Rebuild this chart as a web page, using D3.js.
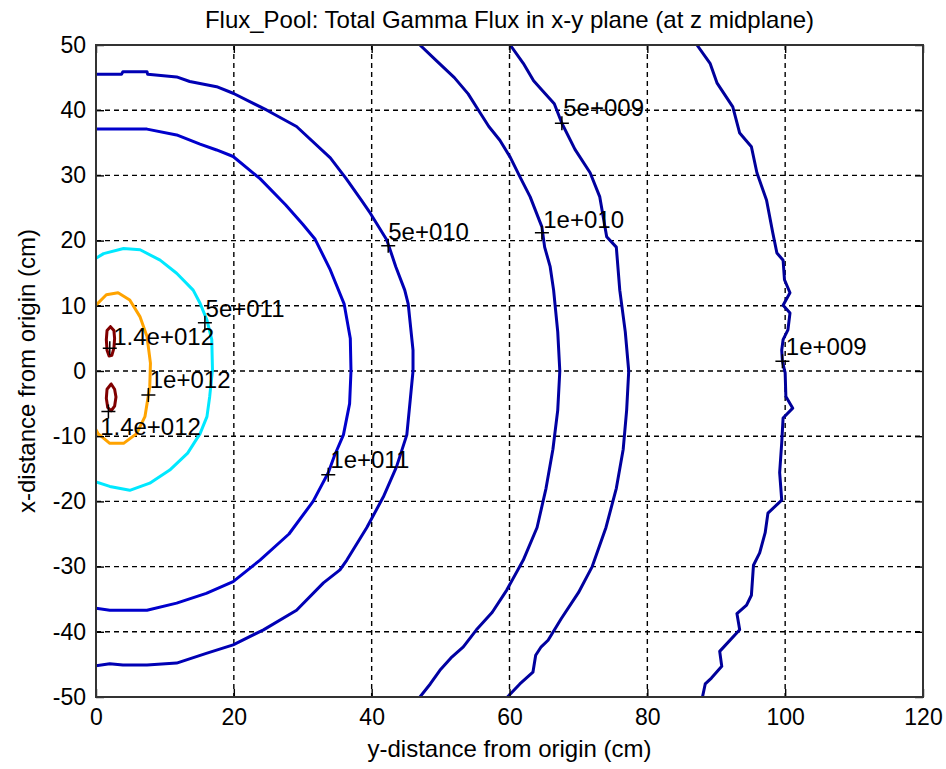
<!DOCTYPE html>
<html><head><meta charset="utf-8">
<script src="https://cdn.jsdelivr.net/npm/d3@7"></script>
<style>body{margin:0;background:#fff;} svg{display:block;}</style>
</head><body>
<svg id="c" width="946" height="769"></svg>
<script>
// ---- data ----
const xTicks = [0, 20, 40, 60, 80, 100, 120];
const yTicks = [-50, -40, -30, -20, -10, 0, 10, 20, 30, 40, 50];
const titleText = "Flux_Pool: Total Gamma Flux in x-y plane (at z midplane)";
const xLabelText = "y-distance from origin (cm)";
const yLabelText = "x-distance from origin (cm)";

// contour lines, [y-distance, x-distance]
const c14a = [[2.1,6.8],[2.6,6.2],[2.7,5],[2.6,3.5],[2.3,2.4],[1.9,2.3],[1.6,3.2],[1.5,4.8],[1.6,6.2],[2.1,6.8]];
const c14b = [[2.2,-2.0],[2.7,-2.8],[2.9,-4.0],[2.7,-5.4],[2.2,-6.1],[1.7,-5.6],[1.5,-4.2],[1.6,-2.8],[2.2,-2.0]];
const c1e12 = [[0,10.1],[1.5,11.7],[3.2,12],[4.9,10.9],[6.4,8.3],[7.4,5.3],[7.9,1.2],[7.8,-2.4],[7.1,-7],[5.9,-9.6],[4,-11.1],[2,-11.1],[0.3,-9.6],[0,-9]];
const c5e11 = [[0,17.3],[1.1,18],[4,18.8],[6.4,18.6],[9.3,17],[11.7,15],[14.1,12.4],[15.1,10.4],[16.1,7.8],[16.8,4.8],[16.9,0.2],[16.5,-3.9],[16.1,-7],[15.1,-9.6],[13.3,-12.6],[10.7,-15.2],[7.8,-17.2],[4.9,-18.3],[2,-17.7],[0,-17]];
const c1e11 = [[0,37.1],[4,37.1],[7.4,37.1],[11.7,36.2],[15.1,34.8],[17.5,33.9],[19.9,32.9],[23.8,29.5],[27.5,25.5],[30,22.5],[31.8,20.2],[34,15.5],[36,10.3],[36.9,5],[37,0],[36.8,-5],[35.9,-9.8],[34.6,-13],[33.7,-15.6],[31.5,-20],[28,-25],[23.8,-29],[19.9,-32.3],[16,-34.1],[11.7,-35.6],[7.4,-36.7],[2,-36.7],[0,-36.4]];
const c5e10 = [[0,45.5],[3.7,45.5],[3.9,45.9],[7.4,45.9],[7.5,45.5],[11.7,45.1],[13.6,44.4],[17.5,43.6],[19.9,42.6],[24.8,40],[29.1,37.5],[34,32.7],[36.3,29.5],[38.5,26.2],[39.8,24.2],[42.2,20.1],[43.5,16],[44.8,12.4],[45.3,10.3],[46,3.2],[46,0],[45.6,-4.4],[45.1,-9.8],[43.6,-14.7],[41.7,-19.3],[39.3,-24],[36.4,-29],[35.4,-30.5],[33,-32.5],[29.1,-36.7],[24.3,-39.7],[19.9,-42],[16,-43.3],[11.7,-44.8],[7.4,-45.1],[3.9,-45.1],[2,-44.9],[0,-45.2]];
const c1e10 = [[47,50],[49.5,47.5],[52,45],[54,42.5],[55.5,40],[57,37.5],[58.6,35.4],[60.1,32.8],[61.5,29.8],[63,26.7],[64.7,22.1],[65.1,19],[65.9,16],[66.4,12.4],[67,6],[67.3,0],[67,-6],[66.3,-12],[65.3,-18],[64,-24],[62,-29],[59.6,-33.6],[57.5,-37],[55.2,-39.7],[53.3,-42.3],[51.5,-44],[49.9,-45.9],[48.5,-48],[47,-50]];
const c5e9 = [[60.1,50],[62,47.2],[63.5,44.5],[64.6,43.2],[66.5,41],[67.6,38],[69.5,34],[71.7,30.4],[73.1,26.7],[74.1,20.6],[75.5,19],[76,12.4],[76.8,6],[77.3,0],[77,-6],[76.5,-12],[75.5,-18],[74,-24],[72,-30],[70,-34],[67.5,-38],[65.6,-41.3],[64.6,-42.3],[63.8,-43.6],[63.4,-46.2],[61.5,-48],[59.7,-50]];
const c1e9 = [[87.2,50],[89.1,47.2],[90.1,44.2],[92.4,40.5],[93.4,36.5],[95.1,34.4],[95.9,30.4],[97.3,26.2],[98.2,21.2],[98.8,18.1],[99.7,17],[99.9,14],[100.7,12],[99.7,10.1],[100.7,8.9],[100.4,6.3],[99.7,4.8],[99.5,3.2],[99.6,1.5],[100,-0.3],[100.1,-3.9],[101.1,-5.7],[99.7,-7.2],[99.5,-11],[99.2,-15.6],[99.5,-19.8],[97.5,-21.8],[97.1,-24.8],[96.3,-27.9],[95.4,-29.8],[95.1,-34.4],[94.4,-35.9],[93,-37.2],[93.4,-39.7],[90.5,-43],[90.8,-45.3],[89.3,-47.1],[88.4,-48],[88,-50]];

// contour label: text, marker position, text position (data coords)
const labelTexts   = ["1.4e+012","1.4e+012","1e+012","5e+011","1e+011","5e+010","1e+010","5e+009","1e+009"];
const markerPts    = [[2,3.5],[1.8,-6.2],[7.6,-3.7],[15.8,7.4],[33.7,-15.9],[42.4,19.2],[64.7,21.2],[67.6,38],[99.6,1.5]];
const labelPts     = [[2.5,4.0],[0.6,-9.8],[7.8,-2.6],[15.9,8.3],[34.0,-14.9],[42.4,20.1],[64.9,21.9],[67.8,39.1],[100.1,2.45]];

// ---- styles ----
const lines = [
  {d: c1e9,  color: "#00009a"},
  {d: c5e9,  color: "#00009e"},
  {d: c1e10, color: "#0000a2"},
  {d: c5e10, color: "#0000b4"},
  {d: c1e11, color: "#0000cc"},
  {d: c5e11, color: "#00e8ff"},
  {d: c1e12, color: "#ffa300"},
  {d: c14a,  color: "#800000"},
  {d: c14b,  color: "#800000"}
];

const W = 946, H = 769;
const m = {l: 96, r: 23, t: 45, b: 72};
const FONT = "'Liberation Sans', Arial, sans-serif";
const svg = d3.select("#c");
const x = d3.scaleLinear().domain([0, 120]).range([m.l, W - m.r]);
const y = d3.scaleLinear().domain([-50, 50]).range([H - m.b, m.t]);

svg.append("rect").attr("width", W).attr("height", H).attr("fill", "#fff");

svg.append("defs").append("clipPath").attr("id", "clip")
  .append("rect").attr("x", m.l).attr("y", m.t).attr("width", W - m.l - m.r).attr("height", H - m.t - m.b);

// grid
const g = svg.append("g");
g.selectAll("line.gx").data(xTicks.slice(1, -1)).join("line")
  .attr("x1", d => x(d)).attr("x2", d => x(d)).attr("y1", m.t).attr("y2", H - m.b)
  .attr("stroke", "#000").attr("stroke-width", 1.4).attr("stroke-dasharray", "5,4");
g.selectAll("line.gy").data(yTicks.slice(1, -1)).join("line")
  .attr("y1", d => y(d)).attr("y2", d => y(d)).attr("x1", m.l).attr("x2", W - m.r)
  .attr("stroke", "#000").attr("stroke-width", 1.4).attr("stroke-dasharray", "5,4");

// contours
const lineGen = d3.line().x(d => x(d[0])).y(d => y(d[1]));
svg.append("g").attr("clip-path", "url(#clip)")
  .selectAll("path").data(lines).join("path")
  .attr("d", d => lineGen(d.d)).attr("fill", "none")
  .attr("stroke", d => d.color).attr("stroke-width", 3)
  .attr("stroke-linejoin", "round").attr("stroke-linecap", "round");

// axes (ticks inside, all four sides)
const TL = 8;
const fmt = d => String(d);
const axB = d3.axisBottom(x).tickValues(xTicks).tickSize(-TL).tickPadding(12).tickFormat(fmt);
const axT = d3.axisTop(x).tickValues(xTicks).tickSize(-TL).tickFormat("");
const axL = d3.axisLeft(y).tickValues(yTicks).tickSize(-TL).tickPadding(10).tickFormat(fmt);
const axR = d3.axisRight(y).tickValues(yTicks).tickSize(-TL).tickFormat("");
function styleAx(sel) {
  sel.select(".domain").remove();
  sel.selectAll(".tick line").attr("stroke", "#000").attr("stroke-width", 1.4);
  sel.selectAll(".tick text").attr("fill", "#000").style("font-family", FONT).style("font-size", "23px");
}
svg.append("g").attr("transform", `translate(0,${H - m.b})`).call(axB).call(styleAx);
svg.append("g").attr("transform", `translate(0,${m.t})`).call(axT).call(styleAx);
svg.append("g").attr("transform", `translate(${m.l},0)`).call(axL).call(styleAx);
svg.append("g").attr("transform", `translate(${W - m.r},0)`).call(axR).call(styleAx);

// box
svg.append("rect").attr("x", m.l).attr("y", m.t).attr("width", W - m.l - m.r).attr("height", H - m.t - m.b)
  .attr("fill", "none").attr("stroke", "#333").attr("stroke-width", 2);

// markers and labels
const mk = svg.append("g");
const MS = 7;
markerPts.forEach(p => {
  const cx = x(p[0]), cy = y(p[1]);
  mk.append("path").attr("d", `M${cx - MS},${cy}H${cx + MS}M${cx},${cy - MS}V${cy + MS}`)
    .attr("stroke", "#000").attr("stroke-width", 1.5);
});
mk.selectAll("text").data(labelTexts).join("text")
  .attr("x", (d, i) => x(labelPts[i][0])).attr("y", (d, i) => y(labelPts[i][1]))
  .attr("fill", "#000").style("font-family", FONT).style("font-size", "24px").text(d => d);

// title & axis labels
svg.append("text").attr("x", (m.l + W - m.r) / 2).attr("y", 28).attr("text-anchor", "middle")
  .style("font-family", FONT).style("font-size", "24px").attr("fill", "#000").text(titleText);
svg.append("text").attr("x", (m.l + W - m.r) / 2).attr("y", 757).attr("text-anchor", "middle")
  .style("font-family", FONT).style("font-size", "24px").attr("fill", "#000").text(xLabelText);
svg.append("text").attr("transform", `translate(35,${(m.t + H - m.b) / 2}) rotate(-90)`).attr("text-anchor", "middle")
  .style("font-family", FONT).style("font-size", "24px").attr("fill", "#000").text(yLabelText);
</script>
</body></html>
